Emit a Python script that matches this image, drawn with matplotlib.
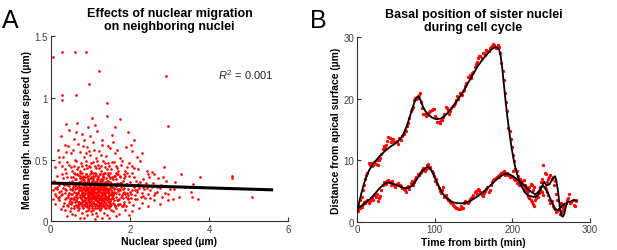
import matplotlib
matplotlib.use("Agg")
import matplotlib.pyplot as plt

plt.rcParams['font.family'] = ['Liberation Sans', 'DejaVu Sans']
plt.rcParams['mathtext.fontset'] = 'custom'
plt.rcParams['mathtext.rm'] = 'Liberation Sans'
plt.rcParams['mathtext.it'] = 'Liberation Sans:italic'

# ---------------- Panel A data ----------------
scatter_points = [
 (0.62,0.05),(0.85,0.03),(1.02,0.08),(1.18,0.04),(1.35,0.07),(0.95,0.09),(1.48,0.03),(1.72,0.06),(0.48,0.08),(1.12,0.02),
 (0.78,0.07),(1.25,0.09),(1.58,0.08),(0.92,0.05),(1.42,0.05),(1.05,0.06),(0.70,0.09),(1.88,0.09),(0.35,0.09),(1.30,0.03),
 (2.05,0.08),(0.88,0.08),(1.65,0.04),(1.15,0.07),(0.55,0.06),(1.97,0.05),(0.40,0.04),(1.08,0.09),(1.52,0.09),(0.74,0.03),
 (0.12,0.14),(0.22,0.17),(0.31,0.12),(0.38,0.19),(0.45,0.15),(0.52,0.11),(0.58,0.18),(0.63,0.13),(0.68,0.16),(0.72,0.11),
 (0.76,0.19),(0.80,0.14),(0.84,0.17),(0.87,0.12),(0.90,0.15),(0.93,0.19),(0.96,0.11),(0.99,0.16),(1.02,0.13),(1.05,0.18),
 (1.08,0.15),(1.11,0.11),(1.14,0.17),(1.17,0.13),(1.20,0.19),(1.23,0.15),(1.26,0.12),(1.29,0.17),(1.32,0.14),(1.36,0.19),
 (1.40,0.11),(1.44,0.16),(1.48,0.13),(1.53,0.18),(1.58,0.15),(1.63,0.12),(1.69,0.17),(1.75,0.14),(1.82,0.19),(1.90,0.12),
 (1.98,0.16),(2.08,0.13),(2.18,0.18),(2.30,0.15),(2.45,0.12),(2.60,0.17),(0.27,0.10),(0.42,0.13),(0.55,0.16),(0.66,0.19),
 (0.70,0.13),(0.78,0.16),(0.82,0.11),(0.86,0.19),(0.91,0.13),(0.95,0.17),(0.98,0.14),(1.01,0.19),(1.04,0.11),(1.07,0.16),
 (1.10,0.14),(1.13,0.19),(1.16,0.11),(1.19,0.16),(1.22,0.13),(1.25,0.18),(1.28,0.11),(1.31,0.19),(1.34,0.12),(1.38,0.16),
 (1.42,0.18),(1.46,0.11),(1.51,0.15),(1.56,0.19),(1.61,0.14),(1.66,0.11),(1.72,0.18),(1.79,0.12),(1.86,0.16),(1.94,0.19),
 (0.18,0.19),(0.34,0.15),(0.48,0.18),(0.60,0.11),(0.74,0.15),(0.88,0.16),(0.97,0.12),(1.03,0.15),(1.09,0.19),(1.15,0.14),
 (1.21,0.11),(1.27,0.15),(1.33,0.17),(1.39,0.13),(1.45,0.19),(1.50,0.12),(1.60,0.17),(1.70,0.13),(1.85,0.14),(2.02,0.19),
 (2.22,0.11),(2.38,0.19),(2.75,0.14),(2.95,0.17),(3.10,0.18),(0.06,0.18),(0.64,0.17),(0.83,0.13),(1.12,0.12),(1.37,0.11),
 (0.05,0.25),(0.10,0.22),(0.15,0.28),(0.20,0.24),(0.25,0.21),(0.30,0.27),(0.35,0.23),(0.40,0.29),(0.44,0.20),(0.48,0.26),
 (0.52,0.22),(0.56,0.28),(0.60,0.24),(0.63,0.21),(0.66,0.27),(0.69,0.23),(0.72,0.29),(0.75,0.25),(0.78,0.21),(0.81,0.27),
 (0.84,0.23),(0.87,0.29),(0.90,0.25),(0.93,0.21),(0.96,0.27),(0.99,0.23),(1.02,0.29),(1.05,0.25),(1.08,0.21),(1.11,0.27),
 (1.14,0.23),(1.17,0.29),(1.20,0.25),(1.23,0.21),(1.26,0.27),(1.29,0.23),(1.32,0.29),(1.35,0.25),(1.38,0.21),(1.41,0.27),
 (1.45,0.23),(1.49,0.29),(1.53,0.25),(1.57,0.21),(1.61,0.27),(1.65,0.23),(1.70,0.29),(1.75,0.25),(1.80,0.21),(1.86,0.27),
 (1.92,0.23),(1.99,0.29),(2.06,0.25),(2.14,0.21),(2.22,0.27),(2.31,0.23),(2.40,0.29),(2.50,0.25),(2.62,0.21),(2.75,0.27),
 (2.88,0.23),(3.02,0.26),(0.58,0.20),(0.62,0.26),(0.67,0.22),(0.71,0.25),(0.76,0.28),(0.80,0.24),(0.85,0.20),(0.89,0.26),
 (0.92,0.28),(0.95,0.24),(0.98,0.20),(1.01,0.26),(1.04,0.22),(1.07,0.28),(1.10,0.24),(1.13,0.20),(1.16,0.26),(1.19,0.22),
 (1.22,0.28),(1.25,0.24),(1.28,0.20),(1.31,0.26),(1.34,0.22),(1.37,0.28),(1.40,0.24),(1.44,0.20),(1.48,0.26),(1.52,0.22),
 (1.56,0.28),(1.60,0.24),(1.64,0.20),(1.68,0.26),(1.73,0.22),(1.78,0.28),(1.84,0.24),(1.90,0.20),(1.96,0.26),(2.03,0.22),
 (2.10,0.28),(2.18,0.24),(2.27,0.20),(2.36,0.26),(2.46,0.22),(2.56,0.28),(2.68,0.24),(2.82,0.20),(0.12,0.27),(0.22,0.29),
 (0.28,0.22),(0.37,0.26),(0.46,0.23),(0.54,0.25),(0.65,0.29),(0.73,0.20),(0.79,0.23),(0.83,0.26),(0.86,0.22),(0.94,0.25),
 (0.97,0.29),(1.00,0.21),(1.06,0.23),(1.09,0.26),(1.12,0.29),(1.15,0.21),(1.18,0.24),(1.24,0.26),(1.27,0.29),(1.30,0.21),
 (1.36,0.24),(1.43,0.26),(1.47,0.21),(1.55,0.24),(1.63,0.29),(1.72,0.26),(1.82,0.23),(1.95,0.21),(2.12,0.25),(2.33,0.28),
 (0.08,0.33),(0.16,0.37),(0.24,0.31),(0.32,0.35),(0.39,0.39),(0.45,0.32),(0.51,0.36),(0.57,0.30),(0.62,0.34),(0.67,0.38),
 (0.71,0.31),(0.75,0.35),(0.79,0.39),(0.83,0.32),(0.87,0.36),(0.91,0.30),(0.95,0.34),(0.99,0.38),(1.03,0.31),(1.07,0.35),
 (1.11,0.39),(1.15,0.32),(1.19,0.36),(1.23,0.30),(1.27,0.34),(1.31,0.38),(1.35,0.31),(1.39,0.35),(1.44,0.39),(1.49,0.32),
 (1.54,0.36),(1.59,0.30),(1.65,0.34),(1.71,0.38),(1.78,0.31),(1.85,0.35),(1.93,0.39),(2.01,0.32),(2.10,0.36),(2.20,0.30),
 (2.32,0.34),(2.45,0.38),(2.58,0.31),(2.72,0.35),(2.90,0.33),(3.15,0.32),(3.30,0.38),(0.54,0.33),(0.64,0.31),(0.73,0.37),
 (0.81,0.34),(0.85,0.30),(0.89,0.38),(0.93,0.33),(0.97,0.31),(1.01,0.36),(1.05,0.33),(1.09,0.30),(1.13,0.37),(1.17,0.34),
 (1.21,0.31),(1.25,0.38),(1.29,0.33),(1.33,0.36),(1.37,0.30),(1.42,0.33),(1.47,0.37),(1.52,0.30),(1.57,0.34),(1.62,0.37),
 (1.68,0.31),(1.75,0.36),(1.82,0.33),(1.90,0.30),(1.98,0.37),(2.15,0.33),(2.40,0.31),(0.28,0.38),(0.42,0.36),(0.60,0.39),
 (0.77,0.33),(0.92,0.36),(1.06,0.39),(1.20,0.34),(1.34,0.39),(1.50,0.35),(1.66,0.39),(1.88,0.37),(2.05,0.39),(2.62,0.38),
 (0.10,0.44),(0.22,0.48),(0.35,0.42),(0.46,0.46),(0.55,0.41),(0.63,0.49),(0.70,0.44),(0.77,0.47),(0.84,0.42),(0.90,0.49),
 (0.96,0.45),(1.02,0.41),(1.08,0.48),(1.14,0.43),(1.20,0.46),(1.26,0.41),(1.32,0.49),(1.38,0.44),(1.45,0.47),(1.52,0.42),
 (1.60,0.48),(1.68,0.43),(1.77,0.46),(1.87,0.41),(1.98,0.47),(2.10,0.43),(2.25,0.49),(2.42,0.41),(2.55,0.40),(2.85,0.44),
 (0.40,0.48),(0.58,0.45),(0.74,0.41),(0.88,0.46),(1.00,0.44),(1.11,0.45),(1.23,0.43),(1.36,0.47),(1.48,0.45),(1.64,0.45),
 (1.80,0.49),(2.05,0.45),(0.28,0.45),(1.17,0.49),(1.55,0.48),
 (0.18,0.58),(0.32,0.52),(0.44,0.61),(0.52,0.55),(0.61,0.50),(0.68,0.63),(0.75,0.56),(0.83,0.52),(0.92,0.60),(1.00,0.54),
 (1.07,0.64),(1.15,0.51),(1.22,0.57),(1.30,0.62),(1.40,0.53),(1.50,0.59),(1.62,0.55),(1.75,0.51),(1.90,0.60),(2.05,0.57),
 (2.18,0.52),(0.38,0.56),(1.10,0.58),(1.58,0.64),(0.88,0.55),
 (0.26,0.69),(0.45,0.74),(0.58,0.67),(0.66,0.80),(0.80,0.71),(0.85,0.66),(1.00,0.69),(1.05,0.84),(1.18,0.73),(1.30,0.66),
 (1.42,0.85),(1.55,0.70),(1.75,0.83),(1.95,0.72),(2.10,0.66),
 (3.40,0.28),(3.55,0.24),(3.77,0.36),(3.60,0.30),(3.56,0.20),(3.73,0.18),(3.25,0.20),(4.57,0.37),(4.59,0.35),(5.08,0.20),
 (2.91,1.18),(2.97,0.77),(1.41,0.96),(0.97,1.11),(0.65,1.02),(0.29,1.02),(0.29,0.98),(1.23,1.22),(0.89,1.37),(0.61,1.37),
 (0.28,1.37),(0.07,1.33),
 (0.512,0.187),(0.547,0.263),(0.583,0.312),(0.604,0.155),(0.627,0.228),(0.651,0.341),(0.668,0.194),(0.693,0.276),(0.711,0.158),(0.724,0.302),
 (0.746,0.217),(0.762,0.349),(0.779,0.172),(0.797,0.254),(0.812,0.295),(0.823,0.203),(0.839,0.331),(0.852,0.161),(0.866,0.243),(0.878,0.283),
 (0.891,0.186),(0.904,0.318),(0.917,0.233),(0.925,0.152),(0.938,0.268),(0.949,0.207),(0.961,0.345),(0.972,0.178),(0.984,0.291),(0.993,0.249),
 (1.004,0.164),(1.016,0.305),(1.027,0.221),(1.036,0.272),(1.048,0.193),(1.059,0.336),(1.066,0.157),(1.078,0.246),(1.087,0.288),(1.094,0.209),
 (1.106,0.322),(1.117,0.174),(1.124,0.259),(1.136,0.301),(1.145,0.188),(1.157,0.237),(1.163,0.344),(1.175,0.161),(1.186,0.279),(1.194,0.214),
 (1.205,0.296),(1.216,0.169),(1.227,0.252),(1.238,0.327),(1.246,0.198),(1.259,0.264),(1.267,0.153),(1.278,0.308),(1.289,0.226),(1.297,0.284),
 (1.309,0.181),(1.318,0.339),(1.326,0.242),(1.339,0.197),(1.347,0.271),(1.358,0.158),(1.367,0.315),(1.379,0.229),(1.388,0.186),(1.396,0.293),
 (1.41,0.251),(1.43,0.171),(1.45,0.328),(1.47,0.212),(1.49,0.276),(1.51,0.163),(1.53,0.304),(1.55,0.233),(1.57,0.189),(1.59,0.262),
 (0.532,0.221),(0.571,0.178),(0.613,0.286),(0.642,0.167),(0.681,0.237),(0.703,0.321),(0.737,0.268),(0.758,0.192),(0.788,0.226),(0.806,0.358),
 (0.831,0.267),(0.847,0.213),(0.872,0.176),(0.886,0.309),(0.911,0.271),(0.932,0.196),(0.943,0.328),(0.968,0.232),(0.978,0.157),(0.997,0.281),
 (1.011,0.238),(1.022,0.352),(1.041,0.178),(1.053,0.263),(1.071,0.204),(1.083,0.317),(1.099,0.253),(1.112,0.186),(1.131,0.229),(1.149,0.273),
 (1.168,0.206),(1.181,0.318),(1.199,0.249),(1.211,0.183),(1.232,0.288),(1.251,0.236),(1.262,0.177),(1.283,0.262),(1.302,0.213),(1.322,0.287),
 (1.343,0.224),(1.362,0.181),(1.383,0.258),(1.402,0.203),(1.42,0.302),(1.44,0.243),(1.46,0.183),(1.48,0.238),(1.52,0.281),(1.56,0.207),
 (1.61,0.226),(1.64,0.288),(1.67,0.172),(1.71,0.243),(1.74,0.312),(1.78,0.194),(1.83,0.262),(1.87,0.218),(1.92,0.306),(1.96,0.182),
 (0.43,0.214),(0.46,0.287),(0.49,0.163),(0.39,0.256),(0.36,0.184),(0.33,0.297),(0.26,0.243),(0.21,0.196),(0.17,0.261),(0.13,0.208),
 (2.01,0.236),(2.07,0.294),(2.13,0.181),(2.19,0.252),(2.26,0.317),(2.34,0.203),(2.43,0.268),(2.52,0.186),(2.64,0.232),(2.78,0.298),
 (0.552,0.362),(0.618,0.387),(0.689,0.372),(0.752,0.395),(0.817,0.368),(0.883,0.383),(0.951,0.364),(1.013,0.391),(1.074,0.369),(1.139,0.386),
 (1.193,0.363),(1.256,0.381),(1.314,0.366),(1.373,0.392),(1.435,0.371),(1.503,0.388),(1.586,0.364),(1.662,0.383),(1.748,0.369),(1.841,0.386),
 (0.583,0.127),(0.654,0.118),(0.715,0.134),(0.792,0.122),(0.856,0.137),(0.918,0.119),(0.987,0.131),(1.052,0.124),(1.118,0.138),(1.183,0.121),
 (1.244,0.133),(1.311,0.126),(1.386,0.139),(1.452,0.121),(1.534,0.132),(1.617,0.126),(1.702,0.137),(1.816,0.124),(0.504,0.137),(0.447,0.121),
 (0.92,0.43),(1.03,0.47),(0.79,0.45),(1.26,0.45),(1.41,0.42),(0.67,0.42),(0.51,0.44),(1.71,0.41),(1.93,0.44),(2.21,0.42),
 (0.35,0.62),(0.57,0.58),(0.81,0.61),(1.27,0.54),(1.44,0.61),(1.68,0.58),(0.97,0.57),(2.31,0.55),(0.63,0.72),(1.12,0.78),
 (1.63,0.76),(0.39,0.79),(0.93,0.76),(2.02,0.62),(0.22,0.52),(2.48,0.36),(2.69,0.28),(2.96,0.22),(3.12,0.26),(2.84,0.36),
]
nuclear_speed = [p[0] for p in scatter_points]
neigh_speed = [p[1] for p in scatter_points]

fit_x = [0.0, 5.58]
fit_y = [0.31, 0.255]
r2_text = "$R^2$ = 0.001"

# ---------------- Panel B data ----------------
time_u = [i * 3 for i in range(95)]
pos_u = [2.5,2.2,4.0,6.0,7.6,9.5,9.6,9.2,9.4,9.2,
         10.4,11.8,12.0,13.2,13.6,13.4,12.9,13.2,13.6,13.3,
         14.2,14.8,16.0,18.0,18.6,20.2,20.2,21.0,18.5,17.6,
         17.3,17.8,18.2,18.4,16.8,16.2,16.5,17.0,18.7,18.2,
         18.0,18.8,19.3,20.4,21.0,20.6,21.4,22.6,23.6,23.3,
         24.4,25.6,26.6,27.0,27.4,27.2,27.7,28.3,28.6,28.8,
         28.5,28.4,25.8,23.0,19.5,15.2,13.5,10.8,8.6,7.4,
         7.0,6.0,5.2,4.6,3.8,3.2,2.6,4.2,5.0,6.4,
         9.3,7.7,7.0,7.6,7.3,6.6,3.5,1.2,1.8,2.2,
         3.6,4.5,3.2,2.8,3.4]
time_u2 = [1.5 + i * 3 for i in range(94)]
pos_u2 = [1.8,3.5,5.2,7.0,8.0,9.3,9.0,9.7,10.1,10.0,
          11.0,12.3,12.5,13.8,13.0,13.5,13.0,12.6,13.4,14.0,
          15.0,15.6,16.8,18.3,19.8,20.0,20.6,19.5,17.6,17.2,
          17.5,18.0,18.3,17.2,16.3,16.0,16.6,17.6,18.5,17.6,
          18.5,19.0,19.8,20.0,20.9,21.3,22.0,23.5,23.9,24.2,
          25.1,26.0,27.0,26.6,27.4,27.9,27.8,28.5,28.9,28.2,
          28.7,27.5,24.5,21.0,18.0,14.8,12.2,9.8,8.2,7.0,
          6.4,5.5,4.8,4.2,3.5,2.9,3.6,4.8,5.6,7.0,
          8.0,6.5,7.3,7.0,6.0,4.5,2.0,1.4,2.7,3.0,
          3.8,3.0,3.5,2.6]
time_l = [i * 3 for i in range(90)]
pos_l = [2.3,2.5,2.4,3.2,3.4,3.0,3.8,3.6,4.0,3.4,
         4.2,6.0,6.5,6.6,6.4,6.7,5.9,6.1,6.0,5.8,
         5.3,4.9,5.8,6.3,6.0,7.0,7.7,7.9,8.4,8.2,
         9.2,8.8,8.3,7.4,6.9,5.5,4.6,5.6,4.4,3.6,
         3.2,2.8,2.4,2.2,2.1,2.3,3.0,3.2,3.4,3.9,
         4.4,5.0,5.3,4.8,4.2,5.0,5.6,5.2,6.5,7.0,
         7.3,7.2,8.0,8.3,7.9,7.6,7.2,8.2,6.8,6.5,
         6.2,6.6,5.9,5.4,5.6,6.0,5.7,3.8,4.6,5.0,
         4.4,5.4,4.3,3.0,2.5,2.0,1.7,2.6,2.9,2.6]
time_l2 = [1.5 + i * 3 for i in range(89)]
pos_l2 = [2.6,2.2,2.9,3.0,3.6,3.3,3.9,4.3,4.5,3.8,
          5.2,6.4,6.2,6.8,6.0,6.2,5.7,6.3,5.9,5.5,
          5.2,5.6,5.3,6.6,6.4,7.3,7.6,8.1,8.7,8.6,
          9.4,8.9,7.9,6.6,6.2,5.0,5.2,4.1,3.9,3.5,
          3.0,2.6,2.2,2.0,2.5,2.2,3.3,3.0,3.7,4.1,
          4.8,4.5,5.1,4.4,4.6,5.4,4.9,6.0,6.8,7.1,
          7.5,7.7,8.1,7.6,7.9,7.3,7.5,7.0,6.3,6.0,
          6.4,6.8,5.6,5.0,6.2,5.1,4.3,4.0,5.4,4.8,
          5.7,4.9,3.6,3.3,2.2,1.5,2.1,3.0,2.3]

fit_u_t = [0,3,6,9,12,15,18,21,24,28,32,36,40,44,48,52,56,60,63,66,69,72,75,78,80,82,85,88,92,96,
           100,104,108,112,116,120,125,130,135,140,145,150,155,160,165,170,174,178,181,183,185,187,189,191,193,195,197,199,201,203,
           206,209,212,216,220,225,229,233,237,241,244,248,252,255,257,259,261,263,265,267,269,271,275,279,283]
fit_u_y = [1.5,3.3,4.8,6.2,7.3,8.2,8.9,9.5,9.9,10.5,11.0,11.5,11.9,12.3,12.6,13.0,13.5,14.3,15.2,16.3,17.5,18.7,19.8,20.4,20.3,19.7,18.7,18.0,17.4,17.0,
           16.75,16.7,16.8,17.1,17.6,18.2,19.0,19.9,20.8,21.9,23.0,24.1,25.2,26.1,26.9,27.6,28.1,28.4,28.3,28.0,27.0,25.0,22.5,20.0,17.7,15.7,13.8,12.1,10.6,9.3,
           7.8,6.6,5.7,4.8,4.3,4.1,4.0,4.3,5.5,6.5,5.9,6.1,7.0,7.4,6.5,4.8,2.5,1.0,0.8,1.3,2.5,3.2,3.3,3.5,3.5]
fit_l_t = [0,4,8,12,16,20,24,28,32,36,40,44,48,52,56,60,64,68,72,76,80,84,88,91,94,97,100,104,108,112,
           116,120,125,130,135,140,145,150,155,160,165,170,175,180,185,190,194,198,203,208,212,216,220,225,229,233,237,240,243,246,
           249,252,255,259,263,267]
fit_l_y = [2.2,2.4,2.8,3.2,3.6,4.1,4.7,5.3,5.8,6.2,6.35,6.3,6.1,5.9,5.7,5.5,5.45,5.6,6.0,6.7,7.5,8.2,8.7,8.9,8.7,8.1,7.2,6.1,5.1,4.3,
           3.8,3.4,3.1,3.0,3.0,3.1,3.3,3.7,4.1,4.6,5.1,5.7,6.3,6.9,7.4,7.75,7.8,7.6,7.2,6.7,6.3,5.9,5.3,4.8,4.5,4.7,5.6,5.8,5.3,4.6,
           3.7,2.9,2.0,1.9,2.4,2.9]

# ---------------- Figure ----------------
fig = plt.figure(figsize=(6.17, 2.51), dpi=100)
tick_col = '#404040'

def style(ax):
    for s in ['top', 'right']:
        ax.spines[s].set_visible(False)
    for s in ['left', 'bottom']:
        ax.spines[s].set_color('#333333')
        ax.spines[s].set_linewidth(0.8)
    ax.tick_params(direction='in', length=3, width=0.8, colors='#333333',
                   labelcolor=tick_col, labelsize=7, pad=2)

axA = fig.add_axes([0.0822, 0.1143, 0.385, 0.738])
axA.scatter(nuclear_speed, neigh_speed, s=3.6, c='#ff0000', linewidths=0, zorder=2)
axA.plot(fit_x, fit_y, color='black', lw=2.2, zorder=3)
axA.set_xlim(0, 6)
axA.set_ylim(0, 1.5)
axA.set_xticks([0, 2, 4, 6])
axA.set_yticks([0, 0.5, 1, 1.5])
axA.set_yticklabels(['0', '0.5', '1', '1.5'])
style(axA)
axA.text(4.22, 1.19, r2_text, fontsize=8, va='center', ha='left', color='#222222')
axA.set_xlabel('Nuclear speed (µm)', fontsize=7.5, fontweight='bold', labelpad=1.5)
axA.set_ylabel('Mean neigh. nuclear speed (µm)', fontsize=7.5, fontweight='bold', labelpad=2)
axA.set_title('Effects of nuclear migration\non neighboring nuclei', fontsize=9,
              fontweight='bold', pad=5, linespacing=1.1)

axB = fig.add_axes([0.5786, 0.1127, 0.3776, 0.7347])
for tt, yy in [(time_u, pos_u), (time_u2, pos_u2), (time_l, pos_l), (time_l2, pos_l2)]:
    axB.plot(tt, yy, 'o', color='#ff0000', ms=2.4, mew=0, zorder=2)
axB.plot(fit_u_t, fit_u_y, color='black', lw=1.3, zorder=3)
axB.plot(fit_l_t, fit_l_y, color='black', lw=1.3, zorder=3)
axB.set_xlim(0, 300)
axB.set_ylim(0, 30)
axB.set_xticks([0, 100, 200, 300])
axB.set_yticks([0, 10, 20, 30])
style(axB)
axB.set_xlabel('Time from birth (min)', fontsize=7.5, fontweight='bold', labelpad=1.5)
axB.set_ylabel('Distance from apical surface (µm)', fontsize=7.5, fontweight='bold', labelpad=2)
axB.set_title('Basal position of sister nuclei\nduring cell cycle', fontsize=9,
              fontweight='bold', pad=5, linespacing=1.1)

fig.text(0.003, 0.965, 'A', fontsize=18, va='top', ha='left')
fig.text(0.502, 0.965, 'B', fontsize=18, va='top', ha='left')

fig.savefig('out.png', dpi=100)
